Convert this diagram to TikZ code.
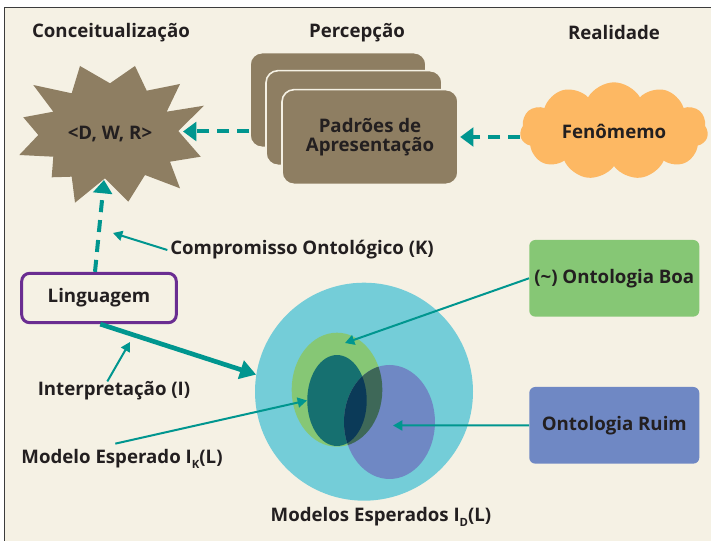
\documentclass[tikz,border=0pt]{standalone}
\usepackage{fontspec}
\setmainfont{Open Sans}
\usetikzlibrary{arrows.meta,shapes.geometric,shapes.symbols}
\definecolor{bgc}{RGB}{245,241,228}
\definecolor{framec}{RGB}{60,60,60}
\definecolor{tealc}{RGB}{0,150,143}
\definecolor{inkc}{RGB}{35,31,32}
\definecolor{brownc}{RGB}{142,126,98}
\definecolor{orangec}{RGB}{253,184,99}
\definecolor{purplec}{RGB}{106,45,145}
\definecolor{greenc}{RGB}{134,199,117}
\definecolor{bluec}{RGB}{111,136,196}
\definecolor{cyanc}{RGB}{116,205,216}
\definecolor{darktealc}{RGB}{22,112,112}
\definecolor{gbc}{RGB}{62,104,88}
\definecolor{tbc}{RGB}{11,58,88}
\newcommand{\lblfont}{\bfseries\fontsize{14}{16}\selectfont}
\tikzset{
  lbl/.style={font=\lblfont, text=inkc, inner sep=0pt},
  card/.style={fill=brownc, draw=bgc, line width=1.2pt, rounded corners=9pt,
    minimum width=132pt, minimum height=71pt},
  obox/.style={rounded corners=4.5pt, minimum width=127.5pt, minimum height=57.5pt,
    font=\lblfont, text=inkc, inner sep=0pt},
  dasharr/.style={draw=tealc, line width=3pt, dash pattern=on 9pt off 6pt,
    -{Triangle[length=10pt,width=14pt]}},
  thinarr/.style={draw=tealc, line width=1.5pt, -{Triangle[length=7pt,width=7.5pt]}},
  thickarr/.style={draw=tealc, line width=3.5pt, -{Triangle[length=12pt,width=14pt]}},
  blob/.style={ellipse, inner sep=0pt}
}
\newcommand{\subsc}[1]{\raisebox{-4pt}{\fontsize{8.5}{9}\selectfont #1}}
\begin{document}
\begin{tikzpicture}[x=0.75pt,y=-0.75pt]
\useasboundingbox (0,0) rectangle (711,541);
\fill[white] (0,0) rectangle (711,541);
\fill[bgc] (4.5,7.5) rectangle (711,541);
\draw[framec, line width=1.2pt] (4.5,541) -- (4.5,7.5) -- (711,7.5);

% titles
\node[lbl] (tconc) at (111,33) {Conceitualização};
\node[lbl] (tperc) at (357,33) {Percepção};
\node[lbl] (treal) at (614,33) {Realidade};

% starburst
\fill[brownc] (80,66) -- (110,83.3) -- (135,66) -- (146.7,90.7) -- (180,84)
  -- (166.7,111.7) -- (204,105.7) -- (178.3,131) -- (200.7,156.7) -- (170,161.7)
  -- (180,188.3) -- (145,175) -- (128.3,201.7) -- (105,178.3) -- (75,202.7)
  -- (71.7,176.7) -- (51.7,177.3) -- (53.3,156.7) -- (19.3,155) -- (38.3,135)
  -- (23.3,117.3) -- (53.3,111.7) -- (33.3,85) -- (71.7,93.3) -- cycle;
\node[lbl] (dwr) at (110,134) {<D, W, R>};
\coordinate (sbR) at (183,131.5);
\coordinate (sbB) at (104,180);

% cards
\node[card] (pad3) at (338,100) {};
\node[card] (pad2) at (354,118) {};
\node[card, align=center, font=\lblfont, text=inkc] (pad) at (370,137) {Padrões de\\[-2pt]Apresentação};

% cloud
\node[cloud, cloud puffs=11, cloud puff arc=120, aspect=2, fill=orangec,
  minimum width=141pt, minimum height=73pt, inner sep=0pt,
  font=\lblfont, text=inkc] (fen) at (614,131) {Fenômemo};

\draw[dasharr] (pad3.west |- sbR) -- (sbR);
\draw[dasharr] (fen.west |- pad.east) -- ([xshift=1pt]pad.east);

% linguagem
\node[draw=purplec, line width=2.25pt, fill=bgc, rounded corners=6pt,
  minimum width=116pt, minimum height=37pt, lbl] (ling) at (99,298) {Linguagem};
\draw[dasharr] ([xshift=-3pt]ling.north) -- (sbB);

\node[lbl, anchor=west] (comp) at (170,250) {Compromisso Ontológico (K)};
\coordinate (cK) at (113,233);
\draw[thinarr] ([xshift=-2pt]comp.west) -- (cK);

% models
\node[blob, fill=cyanc, minimum width=163.5pt, minimum height=163.5pt] (cyan) at (364,391.7) {};
\node[blob, fill=greenc, minimum width=68pt, minimum height=85.5pt] (gr) at (337,389.7) {};
\node[blob, fill=darktealc, minimum width=44.6pt, minimum height=68.2pt] (tl) at (337,400.5) {};
\node[blob, fill=bluec, minimum width=68.2pt, minimum height=85.5pt] (bl) at (389.5,422) {};
\begin{scope}
  \clip (337,389.7) ellipse [x radius=34pt, y radius=42.75pt];
  \fill[gbc] (389.5,422) ellipse [x radius=34.1pt, y radius=42.75pt];
\end{scope}
\begin{scope}
  \clip (337,400.5) ellipse [x radius=22.3pt, y radius=34.1pt];
  \fill[tbc] (389.5,422) ellipse [x radius=34.1pt, y radius=42.75pt];
\end{scope}

\draw[thickarr] ([xshift=1pt]ling.south) -- (cyan.171);

\node[lbl] (interp) at (114,391) {Interpretação (I)};
\coordinate (cI) at (130,342);
\draw[thinarr] ([xshift=-5pt]interp.north) -- (cI);

\node[lbl] (mek) at (122,459) {Modelo Esperado I\subsc{K}(L)};
\draw[thinarr] ([xshift=-5pt, yshift=4pt]mek.north) -- (tl.west);

\node[lbl] (med) at (381,517) {Modelos Esperados I\subsc{D}(L)};

% ontology boxes
\node[obox, fill=greenc] (boa) at (614.3,278.3) {(\textasciitilde) Ontologia Boa};
\node[obox, fill=bluec] (ruim) at (614.3,425.3) {Ontologia Ruim};
\coordinate (cB) at (345,343);
\coordinate (cR) at (393,425.5);
\draw[thinarr] (boa.west) -- (cB);
\draw[thinarr] (ruim.west) -- (cR);
\end{tikzpicture}
\end{document}
